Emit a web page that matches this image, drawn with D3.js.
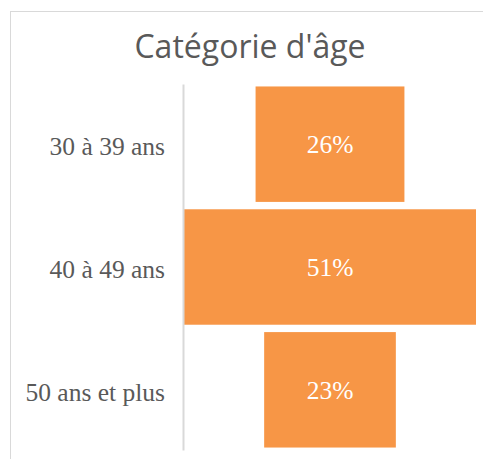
<!DOCTYPE html>
<html>
<head>
<meta charset="utf-8">
<script src="https://cdn.jsdelivr.net/npm/d3@7"></script>
<style>
  body { margin: 0; background: #fff; }
</style>
</head>
<body>
<div id="chart"></div>
<script>
const categories = ["30 à 39 ans", "40 à 49 ans", "50 ans et plus"];
const values = [26, 51, 23];
const valueLabels = ["26%", "51%", "23%"];
const title = "Catégorie d'âge";

const width = 483, height = 459;
const margin = { top: 84, right: 7, bottom: 9, left: 184 };

const svg = d3.select("#chart")
    .append("svg")
    .attr("width", width)
    .attr("height", height);

// chart area border (only top/left visible in the crop)
svg.append("rect")
    .attr("x", 10.5)
    .attr("y", 11.5)
    .attr("width", width + 20)
    .attr("height", height + 20)
    .attr("fill", "none")
    .attr("stroke", "#d9d9d9");

svg.append("text")
    .attr("x", 250)
    .attr("y", 58)
    .attr("text-anchor", "middle")
    .attr("font-family", "'Open Sans', sans-serif")
    .attr("font-size", 32)
    .attr("fill", "#595959")
    .text(title);

const maxV = d3.max(values);
const x = d3.scaleLinear()
    .domain([-maxV / 2, maxV / 2])
    .range([margin.left, width - margin.right]);

const y = d3.scaleBand()
    .domain(categories)
    .range([margin.top, height - margin.bottom])
    .paddingInner(0.06)
    .paddingOuter(0.02);

const data = categories.map((c, i) => ({ label: c, value: values[i], text: valueLabels[i] }));

svg.selectAll("rect.bar")
    .data(data)
    .enter()
    .append("rect")
    .attr("class", "bar")
    .attr("x", d => x(-d.value / 2))
    .attr("y", d => y(d.label))
    .attr("width", d => x(d.value / 2) - x(-d.value / 2))
    .attr("height", y.bandwidth())
    .attr("fill", "#f79646");

svg.selectAll("text.bar-label")
    .data(data)
    .enter()
    .append("text")
    .attr("class", "bar-label")
    .attr("x", x(0))
    .attr("y", d => y(d.label) + y.bandwidth() / 2 + 9)
    .attr("text-anchor", "middle")
    .attr("font-family", "'Liberation Serif', serif")
    .attr("font-size", 25.5)
    .attr("fill", "#fff")
    .text(d => d.text);

const yAxis = svg.append("g")
    .attr("transform", `translate(${margin.left - 1},0)`)
    .call(d3.axisLeft(y).tickSize(0).tickPadding(18));

yAxis.select(".domain")
    .attr("stroke", "#d9d9d9")
    .attr("stroke-width", 2);

yAxis.selectAll("text")
    .attr("font-family", "'Liberation Serif', serif")
    .attr("font-size", 25.5)
    .attr("fill", "#595959")
    .attr("dy", "0.42em");
</script>
</body>
</html>
